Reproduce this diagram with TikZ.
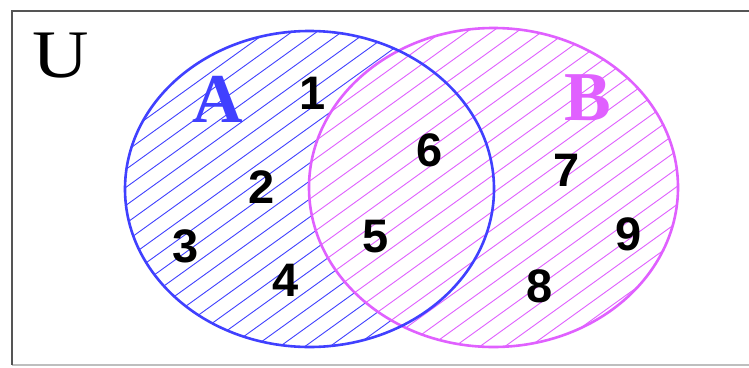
\documentclass[tikz,border=0pt]{standalone}
\usepackage{fontspec}
\setmainfont{Liberation Serif}
\newfontfamily\digitfont{Liberation Sans}
\definecolor{setA}{RGB}{64,64,255}
\definecolor{setB}{RGB}{224,96,255}
\definecolor{framegray}{RGB}{85,85,85}
\definecolor{framelight}{RGB}{190,190,190}
\begin{document}
\begin{tikzpicture}[x=1pt,y=-1pt,
  hatchline/.style={line width=0.9pt},
  outline/.style={line width=2.6pt},
  setlabel/.style={font=\fontsize{70}{70}\selectfont\bfseries, inner sep=0pt},
  digit/.style={font=\digitfont\fontsize{47}{47}\selectfont\bfseries, inner sep=0pt},
]
\useasboundingbox (0,0) rectangle (749,367);
\clip (0,0) rectangle (749,367);
\fill[white] (0,0) rectangle (749,367);
\draw[framelight, line width=1.5pt] (12,365) -- (800,365);
\draw[framegray, line width=2.6pt] (800,11) -- (12,11) -- (12,365);

% hatching of A
\begin{scope}
  \clip (309.5,189) ellipse [x radius=184.5, y radius=158];
  \foreach \c in {80,98,...,900}
    \draw[setA, hatchline] (0,\c) -- (800,\c-576);
\end{scope}
% hatching of B
\begin{scope}
  \clip (493.5,187.5) ellipse [x radius=184.5, y radius=159.5];
  \fill[white] (300,20) rectangle (690,360);
  \foreach \c in {80,98,...,900}
    \draw[setB, hatchline] (0,\c) -- (800,\c-576);
\end{scope}

\draw[setB, outline] (493.5,187.5) ellipse [x radius=184.5, y radius=159.5];
\draw[setA, outline] (309.5,189) ellipse [x radius=184.5, y radius=158];

\node[font=\fontsize{68}{68}\selectfont, inner sep=0pt, xscale=1.15] (U) at (61,56) {U};
\node[setlabel, text=setA] (A) at (218,99) {A};
\node[setlabel, text=setB] (B) at (588,98) {B};

\node[digit] (n1) at (313,93) {1};
\node[digit] (n2) at (262,187) {2};
\node[digit] (n3) at (186,246) {3};
\node[digit] (n4) at (286,280) {4};
\node[digit] (n5) at (376,237) {5};
\node[digit] (n6) at (430,150) {6};
\node[digit] (n7) at (567,170) {7};
\node[digit] (n8) at (540,286) {8};
\node[digit] (n9) at (629,234) {9};
\end{tikzpicture}
\end{document}
